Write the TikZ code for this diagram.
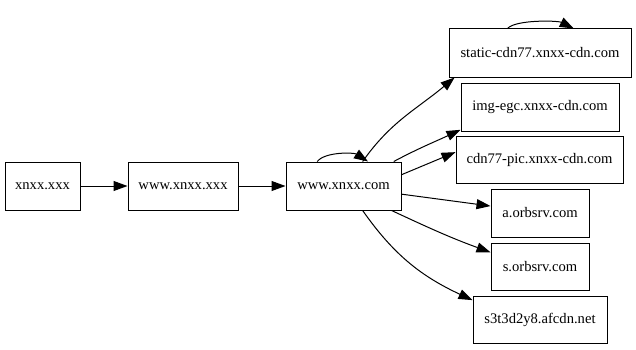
\documentclass[tikz,border=0pt]{standalone}
\usepackage{fontspec}
\setmainfont{Liberation Serif}
\usetikzlibrary{arrows.meta}
\begin{document}
\begin{tikzpicture}[x=1pt,y=1pt,
  box/.style={draw,line width=1pt,minimum height=48pt,inner sep=0pt,font=\fontsize{14.6}{17}\selectfont},
  edge/.style={draw,line width=1pt,-{Triangle[length=14pt,width=10pt]}}]
\useasboundingbox (0,0) rectangle (636,349);
\node[box,minimum width=75pt] (xxx) at (42.5,163) {xnxx.xxx};
\node[box,minimum width=110pt] (wxxx) at (183,163) {www.xnxx.xxx};
\node[box,minimum width=115pt] (com) at (343.5,163) {www.xnxx.com};
\node[box,minimum width=182pt] (static) at (540,296) {static-cdn77.xnxx-cdn.com};
\node[box,minimum width=158pt] (img) at (540,242) {img-egc.xnxx-cdn.com};
\node[box,minimum width=167pt,minimum height=47pt] (pic) at (539.5,189.5) {cdn77-pic.xnxx-cdn.com};
\node[box,minimum width=98pt] (aorb) at (540,136) {a.orbsrv.com};
\node[box,minimum width=98pt,minimum height=47pt] (sorb) at (540,82.5) {s.orbsrv.com};
\node[box,minimum width=134pt,minimum height=47pt] (s3) at (540,29.5) {s3t3d2y8.afcdn.net};

\draw[edge] (xxx) -- (wxxx);
\draw[edge] (wxxx) -- (com);
\draw[edge] (com.137) .. controls +(8,10) and +(-14,9) .. (com.45);
\draw[edge] (static.143) .. controls +(8,9) and +(-16,8) .. (static.36);
\draw[edge] (com.52) to[out=55,in=220] (static.196);
\draw[edge] (com.26) to[out=28,in=205] (img.196);
\draw[edge] (com.11) -- (pic.175);
\draw[edge] (com.-8) -- (aorb.172);
\draw[edge] (com.-27) to[out=-25,in=160] (sorb.164);
\draw[edge] (com.-52) to[out=-55,in=155] (s3.164);
\end{tikzpicture}
\end{document}
